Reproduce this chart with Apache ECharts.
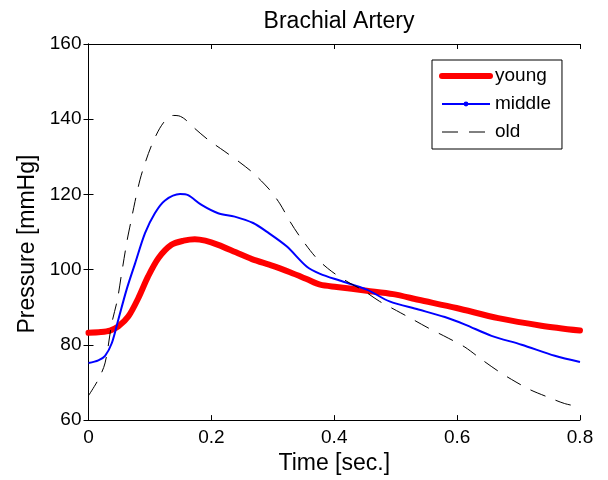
<!DOCTYPE html>
<html>
<head>
<meta charset="utf-8">
<script src="https://cdn.jsdelivr.net/npm/echarts@6/dist/echarts.min.js"></script>
<style>
html,body{margin:0;padding:0;background:#fff;}
#chart{width:608px;height:480px;}
</style>
</head>
<body>
<div id="chart"></div>
<script>
var youngT = [0, 0.02, 0.035, 0.0485, 0.065, 0.081, 0.097, 0.114, 0.135, 0.155, 0.173, 0.19, 0.211, 0.24, 0.266, 0.3, 0.328, 0.355, 0.377, 0.404, 0.453, 0.496, 0.537, 0.599, 0.667, 0.737, 0.8];
var youngP = [83.2, 83.4, 83.8, 84.9, 87.6, 92.4, 98.2, 103.1, 106.6, 107.7, 108.1, 107.7, 106.6, 104.6, 102.8, 101.0, 99.3, 97.5, 96.0, 95.4, 94.4, 93.5, 92.0, 89.8, 87.1, 85.1, 83.8];

var middleT = [0, 0.016, 0.027, 0.038, 0.0485, 0.062, 0.076, 0.092, 0.108, 0.1245, 0.149, 0.162, 0.184, 0.211, 0.238, 0.268, 0.29, 0.3225, 0.355, 0.377, 0.409, 0.453, 0.49, 0.537, 0.58, 0.613, 0.656, 0.705, 0.759, 0.8];
var middleP = [75.2, 75.9, 77.1, 80.5, 86.7, 94.7, 101.75, 109.7, 115.0, 118.4, 120.1, 119.8, 117.2, 115.0, 114.1, 112.4, 110.1, 106.2, 100.85, 98.9, 97.1, 94.7, 91.55, 89.4, 87.4, 85.4, 82.4, 80.05, 77.1, 75.45];

var oldT = [0, 0.016, 0.027, 0.038, 0.047, 0.054, 0.063, 0.0687, 0.0757, 0.0838, 0.092, 0.103, 0.116, 0.128, 0.138, 0.147, 0.157, 0.1705, 0.195, 0.222, 0.2465, 0.268, 0.295, 0.3116, 0.328, 0.344, 0.371, 0.396, 0.4255, 0.447, 0.474, 0.5015, 0.5286, 0.553, 0.5855, 0.6127, 0.64, 0.667, 0.6887, 0.7185, 0.748, 0.775, 0.8];
var oldP = [66.5, 70.8, 75.2, 85.8, 92.0, 99.1, 107.9, 112.5, 118.1, 123.9, 128.3, 133.2, 137.6, 140.2, 141.0, 140.9, 140.0, 137.9, 134.5, 131.4, 128.5, 125.7, 121.2, 117.5, 112.8, 108.8, 103.1, 99.5, 96.4, 94.5, 91.55, 89.1, 86.7, 84.5, 81.8, 79.4, 76.1, 73.0, 70.8, 68.1, 66.1, 64.4, 63.5];

var xTicks = [0, 0.2, 0.4, 0.6, 0.8];
var yTicks = [60, 80, 100, 120, 140, 160];

function pairs(t, p) { return t.map(function (v, i) { return [v, p[i]]; }); }

var FONT = 'Liberation Sans, Arial, Helvetica, sans-serif';
var chart = echarts.init(document.getElementById('chart'), null, {renderer: 'canvas'});

var axisCommon = {
  axisLine: {show: true, lineStyle: {color: '#000', width: 1}},
  axisTick: {show: true, inside: true, length: 5, lineStyle: {color: '#000', width: 1}},
  splitLine: {show: false}
};

chart.setOption({
  backgroundColor: '#fff',
  animation: false,
  title: {
    text: 'Brachial Artery',
    left: 334, top: 5, textAlign: 'center',
    textStyle: {fontFamily: FONT, fontSize: 23, fontWeight: 'normal', color: '#000'}
  },
  grid: {left: 88.5, right: 28, top: 44, bottom: 59.5, containLabel: false},
  legend: {
    orient: 'vertical',
    left: 432, top: 60,
    padding: [6, 11, 7, 7],
    itemWidth: 48, itemHeight: 6, itemGap: 8,
    backgroundColor: '#fff',
    borderColor: '#000', borderWidth: 1,
    textStyle: {fontFamily: FONT, fontSize: 19, color: '#000', lineHeight: 20},
    data: [
      {name: 'young', itemStyle: {opacity: 0}, lineStyle: {width: 6, cap: 'round'}},
      {name: 'middle', lineStyle: {width: 2}},
      {name: 'old', itemStyle: {opacity: 0}, lineStyle: {width: 1}}
    ]
  },
  xAxis: [
    Object.assign({
      type: 'value', min: 0, max: 0.8, interval: 0.2, position: 'bottom',
      name: 'Time [sec.]', nameLocation: 'middle', nameGap: 28,
      nameTextStyle: {fontFamily: FONT, fontSize: 23, color: '#000'},
      axisLabel: {fontFamily: FONT, fontSize: 19, color: '#000', margin: 8,
        formatter: function (v) { return String(+v.toFixed(1)); }}
    }, axisCommon),
    Object.assign({
      type: 'value', min: 0, max: 0.8, interval: 0.2, position: 'top',
      axisLabel: {show: false}
    }, axisCommon)
  ],
  yAxis: [
    Object.assign({
      type: 'value', min: 60, max: 160, interval: 20, position: 'left',
      name: 'Pressure [mmHg]', nameLocation: 'middle', nameGap: 39,
      nameTextStyle: {fontFamily: FONT, fontSize: 23, color: '#000', padding: [0, 24, 0, 0]},
      axisLabel: {fontFamily: FONT, fontSize: 19, color: '#000', margin: 7}
    }, axisCommon),
    Object.assign({
      type: 'value', min: 60, max: 160, interval: 20, position: 'right',
      axisLabel: {show: false}
    }, axisCommon)
  ],
  series: [
    {
      name: 'young', type: 'line', data: pairs(youngT, youngP),
      xAxisIndex: 0, yAxisIndex: 0,
      symbol: 'none', smooth: 0.3,
      lineStyle: {color: '#ff0000', width: 6, cap: 'round', join: 'round'},
      itemStyle: {color: '#ff0000'}
    },
    {
      name: 'middle', type: 'line', data: pairs(middleT, middleP),
      xAxisIndex: 0, yAxisIndex: 0,
      symbol: 'circle', symbolSize: 5, showSymbol: false, smooth: 0.3,
      lineStyle: {color: '#0000ff', width: 2},
      itemStyle: {color: '#0000ff'}
    },
    {
      name: 'old', type: 'line', data: pairs(oldT, oldP),
      xAxisIndex: 0, yAxisIndex: 0,
      symbol: 'none', smooth: 0.3,
      lineStyle: {color: '#000', width: 1, type: [16, 11]},
      itemStyle: {color: '#000'}
    }
  ]
});
</script>
</body>
</html>
